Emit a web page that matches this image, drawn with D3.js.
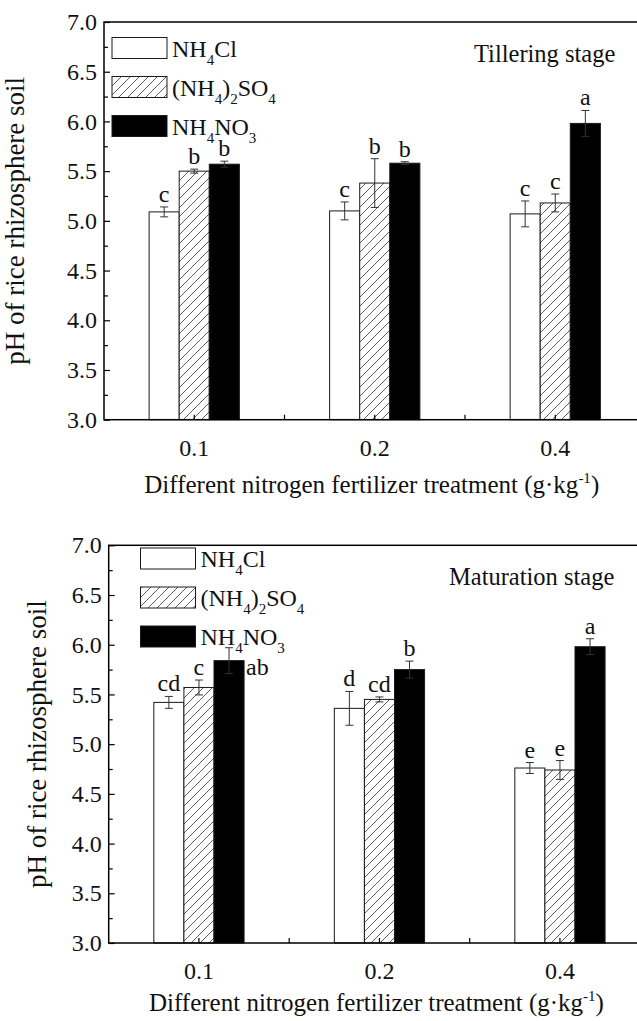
<!DOCTYPE html>
<html>
<head>
<meta charset="utf-8">
<script src="https://cdn.jsdelivr.net/npm/d3@7"></script>
<style>
  body { margin: 0; background: #fff; }
  svg text { font-family: "Liberation Serif", "Times New Roman", serif; fill: #111; }
</style>
</head>
<body>
<div id="chart"></div>
<script>
// categories and series
var categories = ["0.1", "0.2", "0.4"];
var seriesNames = ["NH4Cl", "(NH4)2SO4", "NH4NO3"];

// tillering stage
var tillerNH4Cl = [5.09, 5.10, 5.07];
var tillerNH4ClErr = [0.05, 0.09, 0.13];
var tillerSO4 = [5.50, 5.38, 5.18];
var tillerSO4Err = [0.02, 0.245, 0.09];
var tillerNO3 = [5.57, 5.58, 5.98];
var tillerNO3Err = [0.03, 0.015, 0.13];
var tillerLetters = [["c", "c", "c"], ["b", "b", "c"], ["b", "b", "a"]];

// maturation stage
var matNH4Cl = [5.42, 5.36, 4.76];
var matNH4ClErr = [0.06, 0.17, 0.055];
var matSO4 = [5.57, 5.45, 4.74];
var matSO4Err = [0.075, 0.025, 0.095];
var matNO3 = [5.84, 5.75, 5.98];
var matNO3Err = [0.13, 0.085, 0.08];
var matLetters = [["cd", "d", "e"], ["c", "cd", "e"], ["ab", "b", "a"]];

var yTicks = [3.0, 3.5, 4.0, 4.5, 5.0, 5.5, 6.0, 6.5, 7.0];
var yMinor = [3.25, 3.75, 4.25, 4.75, 5.25, 5.75, 6.25, 6.75];

var W = 637, H = 1021;
var svg = d3.select("#chart").append("svg")
    .attr("width", W)
    .attr("height", H);

svg.append("rect").attr("width", W).attr("height", H).attr("fill", "#fff");

var defs = svg.append("defs");
var pat = defs.append("pattern")
    .attr("id", "hatch")
    .attr("patternUnits", "userSpaceOnUse")
    .attr("width", 9)
    .attr("height", 9);
pat.append("rect").attr("width", 9).attr("height", 9).attr("fill", "#fff");
pat.append("path")
    .attr("d", "M-2,2 L2,-2 M0,9 L9,0 M7,11 L11,7")
    .attr("stroke", "#333")
    .attr("stroke-width", 0.8);

var fills = ["#fff", "url(#hatch)", "#000"];

// legend label with subscripts
function legendText(g, name) {
  var parts;
  if (name == "NH4Cl") parts = [["NH", 0], ["4", 1], ["Cl", 0]];
  else if (name == "(NH4)2SO4") parts = [["(NH", 0], ["4", 1], [")", 0], ["2", 1], ["SO", 0], ["4", 1]];
  else parts = [["NH", 0], ["4", 1], ["NO", 0], ["3", 1]];
  var prev = 0;
  parts.forEach(function(p) {
    var t = g.append("tspan").text(p[0]);
    var shift = p[1] ? 8 : 0;
    t.attr("dy", shift - prev);
    if (p[1]) t.style("font-size", "15px");
    prev = shift;
  });
}

function drawPanel(cfg) {
  var left = cfg.left, top = cfg.top, right = cfg.left + 541.5, bottom = cfg.bottom;
  var g = svg.append("g");

  var x0 = d3.scaleBand().domain(categories).range([left, right]).padding(0);
  var x1 = d3.scaleBand().domain(seriesNames)
      .range([x0.bandwidth() / 4, x0.bandwidth() * 3 / 4]).padding(0);
  var y = d3.scaleLinear().domain([3, 7]).range([bottom, top]);

  // bars
  cfg.values.forEach(function(vals, si) {
    var errs = cfg.errors[si];
    var letters = cfg.letters[si];
    categories.forEach(function(c, ci) {
      var bx = x0(c) + x1(seriesNames[si]);
      var bw = x1.bandwidth();
      g.append("rect")
        .attr("x", bx)
        .attr("y", y(vals[ci]))
        .attr("width", bw)
        .attr("height", y(3) - y(vals[ci]))
        .attr("fill", fills[si])
        .attr("stroke", "#1a1a1a")
        .attr("stroke-width", 1);

      var cx = bx + bw / 2;
      var e = errs[ci];
      g.append("line")
        .attr("x1", cx).attr("x2", cx)
        .attr("y1", y(vals[ci] + e)).attr("y2", y(vals[ci] - e))
        .attr("stroke", "#333").attr("stroke-width", 1);
      [vals[ci] + e, vals[ci] - e].forEach(function(v) {
        g.append("line")
          .attr("x1", cx - 4).attr("x2", cx + 4)
          .attr("y1", y(v)).attr("y2", y(v))
          .attr("stroke", "#333").attr("stroke-width", 1);
      });

      // significance letter
      var lt = letters[ci];
      if (lt == "ab") {
        g.append("text")
          .attr("x", bx + bw + 2)
          .attr("y", y(vals[ci]) + 14)
          .style("font-size", "24px")
          .text(lt);
      } else {
        g.append("text")
          .attr("x", cx)
          .attr("y", y(vals[ci] + e) - 5)
          .attr("text-anchor", "middle")
          .style("font-size", "24px")
          .text(lt);
      }
    });
  });

  // frame
  g.append("rect")
    .attr("x", left).attr("y", top)
    .attr("width", right - left).attr("height", bottom - top)
    .attr("fill", "none")
    .attr("stroke", "#000")
    .attr("stroke-width", 1.5);

  // y axis
  var yAxis = g.append("g")
    .attr("transform", "translate(" + left + ",0)")
    .call(d3.axisLeft(y).tickValues(yTicks).tickSize(-6).tickPadding(7)
      .tickFormat(d3.format(".1f")));
  yAxis.select(".domain").remove();
  yAxis.selectAll("line").attr("stroke-width", 1.2);
  yAxis.selectAll("text").style("font-size", "24px").attr("fill", "#111")
    .style("font-family", "Liberation Serif");

  var yAxisMinor = g.append("g")
    .attr("transform", "translate(" + left + ",0)")
    .call(d3.axisLeft(y).tickValues(yMinor).tickSize(-4).tickFormat(""));
  yAxisMinor.select(".domain").remove();
  yAxisMinor.selectAll("line").attr("stroke-width", 1.2);

  // x axis
  var xAxis = g.append("g")
    .attr("transform", "translate(0," + bottom + ")")
    .call(d3.axisBottom(x0).tickSize(-5).tickPadding(19));
  xAxis.select(".domain").remove();
  xAxis.selectAll("line").attr("stroke-width", 1.2);
  xAxis.selectAll("text").style("font-size", "24px").attr("fill", "#111")
    .style("font-family", "Liberation Serif");

  categories.slice(0, -1).forEach(function(c) {
    var mx = x0(c) + x0.bandwidth();
    g.append("line")
      .attr("x1", mx).attr("x2", mx)
      .attr("y1", bottom).attr("y2", bottom - 5)
      .attr("stroke", "#000").attr("stroke-width", 1.2);
  });

  // axis titles
  var xt = g.append("text")
    .attr("x", (left + right) / 2 - 3)
    .attr("y", cfg.xTitleY)
    .attr("text-anchor", "middle")
    .style("font-size", "25px");
  xt.append("tspan").text("Different nitrogen fertilizer treatment (g\u00b7kg");
  xt.append("tspan").text("-1").attr("dy", -10).style("font-size", "15px");
  xt.append("tspan").text(")").attr("dy", 10);

  g.append("text")
    .attr("transform", "translate(" + cfg.yTitleX + "," + ((top + bottom) / 2) + ") rotate(-90)")
    .attr("text-anchor", "middle")
    .style("font-size", "27px")
    .text("pH of rice rhizosphere soil");

  // stage label
  g.append("text")
    .attr("x", cfg.stageX)
    .attr("y", cfg.stageY)
    .style("font-size", "24.5px")
    .text(cfg.stage);

  // legend
  seriesNames.forEach(function(s, i) {
    var ly = cfg.legY + i * 39;
    g.append("rect")
      .attr("x", cfg.legX).attr("y", ly)
      .attr("width", 55).attr("height", 21)
      .attr("fill", fills[i])
      .attr("stroke", "#1a1a1a").attr("stroke-width", 1);
    var t = g.append("text")
      .attr("x", cfg.legX + 60)
      .attr("y", ly + 19)
      .style("font-size", "24px");
    legendText(t, s);
  });
}

drawPanel({
  left: 104, top: 22, bottom: 419.7,
  values: [tillerNH4Cl, tillerSO4, tillerNO3],
  errors: [tillerNH4ClErr, tillerSO4Err, tillerNO3Err],
  letters: tillerLetters,
  stage: "Tillering stage", stageX: 474, stageY: 62,
  legX: 112, legY: 37.5,
  xTitleY: 493, yTitleX: 24
});

drawPanel({
  left: 108.7, top: 545.3, bottom: 943,
  values: [matNH4Cl, matSO4, matNO3],
  errors: [matNH4ClErr, matSO4Err, matNO3Err],
  letters: matLetters,
  stage: "Maturation stage", stageX: 449, stageY: 585,
  legX: 140.5, legY: 548,
  xTitleY: 1011, yTitleX: 46
});
</script>
</body>
</html>
